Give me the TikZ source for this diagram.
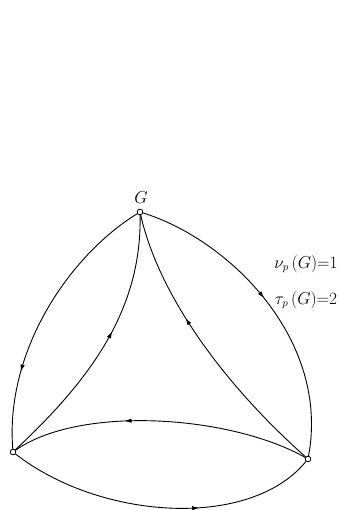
\documentclass[tikz,border=0pt]{standalone}
\usetikzlibrary{arrows.meta,decorations.markings}

\begin{document}
\begin{tikzpicture}[x=1pt,y=-1pt,
    vtx/.style={circle,draw,fill=white,inner sep=0pt,minimum size=5.5pt,line width=0.7pt},
    arc/.style={line width=0.9pt,postaction={decorate},
      decoration={markings,mark=at position #1 with {\arrow{Latex[length=7pt,width=4.5pt]}}}},
    lab/.style={font=\fontsize{16}{19}\selectfont}]
  \useasboundingbox (0,0) rectangle (339,510);
  % three vertices, six arcs
  \node[vtx] (g) at (140,212) {};
  \node[vtx] (l) at (13,452) {};
  \node[vtx] (r) at (308,459) {};
  \node[lab,font=\fontsize{17}{20}\selectfont] (gname) at (141,198) {$G$};
  \node[lab] (nu) at (306,264) {$\nu_p\,(G){=}1$};
  \node[lab] (tau) at (306,300) {$\tau_p\,(G){=}2$};
  % outer arcs
  \draw[arc=0.72] (g) .. controls (70,255) and (5,350) .. (l);
  \draw[arc=0.47] (g) .. controls (230,240) and (330,340) .. (r);
  % inner arcs towards G
  \draw[arc=0.56] (l) .. controls (90,380) and (142,310) .. (g);
  \draw[arc=0.62] (r) .. controls (230,390) and (160,300) .. (g);
  % bottom pair
  \draw[arc=0.62] (r) .. controls (230,415) and (80,405) .. (l);
  \draw[arc=0.62] (l) .. controls (100,520) and (250,530) .. (r);
  % redraw vertices on top
  \node[vtx] at (g) {};
  \node[vtx] at (l) {};
  \node[vtx] at (r) {};
\end{tikzpicture}
\end{document}
